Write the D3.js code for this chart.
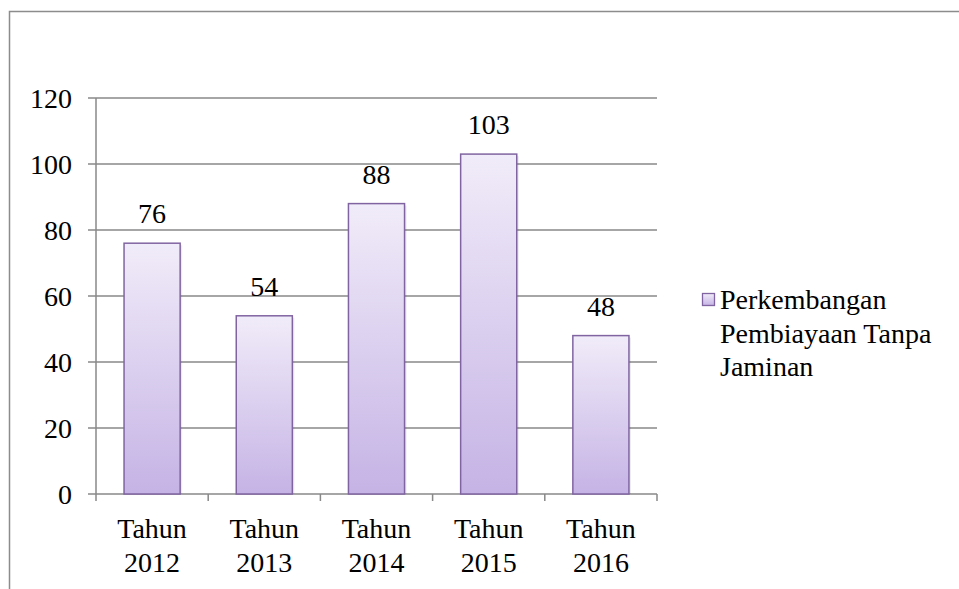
<!DOCTYPE html>
<html>
<head>
<meta charset="UTF-8">
<script src="https://d3js.org/d3.v7.min.js"></script>
</head>
<body style="margin:0">
<svg width="959" height="589"></svg>
<script>
    const categories = [["Tahun", "2012"], ["Tahun", "2013"], ["Tahun", "2014"], ["Tahun", "2015"], ["Tahun", "2016"]];
    const values = [76, 54, 88, 103, 48];
    const yTicks = [0, 20, 40, 60, 80, 100, 120];
    const legendLines = ["Perkembangan", "Pembiayaan Tanpa", "Jaminan"];

    const svg = d3.select("svg")
        .style("font-family", '"Times New Roman", Tinos, "Liberation Serif", serif');
    const fontSize = 28;

    // outer chart frame (runs off the right and bottom edge)
    svg.append("rect")
        .attr("x", 9.5).attr("y", 11.5)
        .attr("width", 970).attr("height", 600)
        .attr("fill", "none").attr("stroke", "#8c8c8c").attr("stroke-width", 1.5);

    const defs = svg.append("defs");
    const grad = defs.append("linearGradient")
        .attr("id", "barGrad").attr("x1", 0).attr("y1", 0).attr("x2", 0).attr("y2", 1);
    grad.append("stop").attr("offset", "0%").attr("stop-color", "#f1ecf9");
    grad.append("stop").attr("offset", "100%").attr("stop-color", "#c5b3e5");

    const plotLeft = 96, plotRight = 657, plotTop = 98, plotBottom = 494;

    const x = d3.scaleBand()
        .domain(d3.range(categories.length))
        .range([plotLeft, plotRight])
        .paddingInner(0.5).paddingOuter(0.25);
    const xOuter = d3.scaleBand().domain(d3.range(categories.length)).range([plotLeft, plotRight]);

    const y = d3.scaleLinear().domain([0, 120]).range([plotBottom, plotTop]);

    // gridlines with their little tick stubs on the left
    svg.append("g")
        .selectAll("line")
        .data(yTicks)
        .join("line")
        .attr("x1", plotLeft - 8).attr("x2", plotRight)
        .attr("y1", d => y(d)).attr("y2", d => y(d))
        .attr("stroke", "#888").attr("stroke-width", 1.5);

    svg.append("g")
        .selectAll("text")
        .data(yTicks)
        .join("text")
        .attr("x", 72).attr("y", d => y(d))
        .attr("dy", "0.35em")
        .attr("text-anchor", "end")
        .attr("font-size", fontSize)
        .style("font-family", d => '"Times New Roman"')
        .text(d => d);

    // y axis line
    svg.append("line")
        .attr("x1", plotLeft).attr("x2", plotLeft)
        .attr("y1", plotTop).attr("y2", plotBottom)
        .attr("stroke", "#888").attr("stroke-width", 1.5);

    // x ticks at category boundaries
    svg.append("g")
        .selectAll("line")
        .data(d3.range(categories.length + 1))
        .join("line")
        .attr("x1", d => d < categories.length ? xOuter(d) : plotRight)
        .attr("x2", d => d < categories.length ? xOuter(d) : plotRight)
        .attr("y1", plotBottom).attr("y2", plotBottom + 7)
        .attr("stroke", "#888").attr("stroke-width", 1.5);

    // bars (soft shadow drawn as an offset grey rect underneath)
    svg.append("g")
        .selectAll("rect")
        .data(values)
        .join("rect")
        .attr("x", (d, i) => x(i) + 2)
        .attr("y", d => y(d) + 2)
        .attr("width", x.bandwidth())
        .attr("height", d => y(0) - y(d) - 2)
        .attr("fill", "#000").attr("opacity", 0.08);

    svg.append("g")
        .selectAll("rect")
        .data(values)
        .join("rect")
        .attr("x", (d, i) => x(i))
        .attr("y", d => y(d))
        .attr("width", x.bandwidth())
        .attr("height", d => y(0) - y(d))
        .attr("fill", "url(#barGrad)")
        .attr("stroke", "#8064a2")
        .attr("stroke-width", 1.5);

    // value labels
    svg.append("g")
        .selectAll("text")
        .data(values)
        .join("text")
        .attr("x", (d, i) => x(i) + x.bandwidth() / 2)
        .attr("y", d => y(d) - 20)
        .attr("text-anchor", "middle")
        .attr("font-size", fontSize)
        .style("font-family", d => '"Times New Roman"')
        .text(d => d);

    // category labels, two lines each
    svg.append("g")
        .selectAll("g")
        .data(categories)
        .join("g")
        .selectAll("text")
        .data((d, i) => d.map((t, j) => ({ t, i, j })))
        .join("text")
        .attr("x", d => xOuter(d.i) + xOuter.bandwidth() / 2)
        .attr("y", d => 538 + d.j * 34)
        .attr("text-anchor", "middle")
        .attr("font-size", fontSize)
        .style("font-family", d => '"Times New Roman"')
        .text(d => d.t);

    // legend
    svg.append("rect")
        .attr("x", 702.5).attr("y", 293.5)
        .attr("width", 12).attr("height", 12)
        .attr("fill", "url(#barGrad)")
        .attr("stroke", "#8064a2").attr("stroke-width", 1.3);
    svg.append("g")
        .selectAll("text")
        .data(legendLines)
        .join("text")
        .attr("x", 720)
        .attr("y", (d, i) => 309 + i * 33.5)
        .attr("font-size", fontSize)
        .style("font-family", d => '"Times New Roman"')
        .text(d => d);
</script>
</body>
</html>
